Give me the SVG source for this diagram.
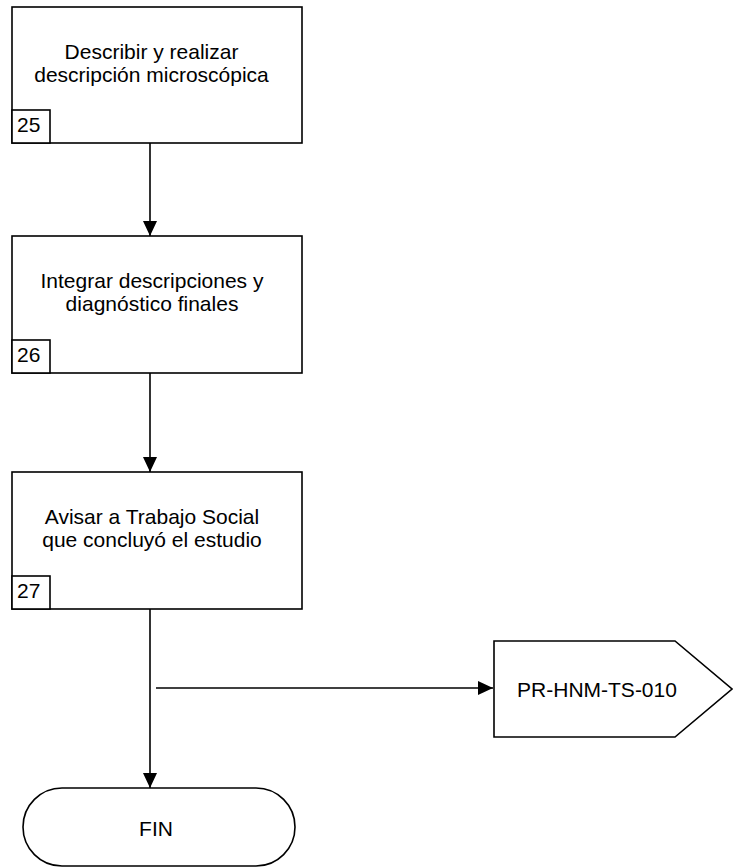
<svg xmlns="http://www.w3.org/2000/svg" width="733" height="867" viewBox="0 0 733 867">
<defs>
<style>
.box{fill:#fff;stroke:#000;stroke-width:1.6}
.ln{fill:none;stroke:#000;stroke-width:1.6}
.t{font-family:"Liberation Sans",Arial,sans-serif;font-size:21px;fill:#000}
.c{text-anchor:middle}
</style>
<marker id="ah" markerWidth="15" markerHeight="14" refX="15" refY="7" orient="auto" markerUnits="userSpaceOnUse">
<path d="M0,0 L15,7 L0,14 Z" fill="#000"/>
</marker>
</defs>
<rect width="733" height="867" fill="#fff"/>
<g id="connectors">
<line class="ln" x1="150" y1="143" x2="150" y2="236" marker-end="url(#ah)"/>
<line class="ln" x1="150" y1="373" x2="150" y2="472" marker-end="url(#ah)"/>
<line class="ln" x1="150" y1="609" x2="150" y2="788" marker-end="url(#ah)"/>
<line class="ln" x1="156" y1="688" x2="493" y2="688" marker-end="url(#ah)"/>
</g>
<g id="n25">
<rect class="box" x="12" y="7" width="290" height="136"/>
<rect class="box" x="12" y="110" width="38" height="33"/>
<text class="t c" x="151.5" y="59">Describir y realizar</text>
<text class="t c" x="151.5" y="82">descripción microscópica</text>
<text class="t" x="17" y="132">25</text>
</g>
<g id="n26">
<rect class="box" x="12" y="236" width="290" height="137"/>
<rect class="box" x="12" y="340" width="38" height="33"/>
<text class="t c" x="152" y="288">Integrar descripciones y</text>
<text class="t c" x="152" y="311">diagnóstico finales</text>
<text class="t" x="17" y="362">26</text>
</g>
<g id="n27">
<rect class="box" x="12" y="472" width="290" height="137"/>
<rect class="box" x="12" y="576" width="38" height="33"/>
<text class="t c" x="152" y="524">Avisar a Trabajo Social</text>
<text class="t c" x="152" y="547">que concluyó el estudio</text>
<text class="t" x="17" y="598">27</text>
</g>
<g id="offpage">
<path class="box" d="M494,641 L675,641 L732,689 L675,737 L494,737 Z"/>
<text class="t c" x="597" y="697">PR-HNM-TS-010</text>
</g>
<g id="fin">
<rect class="box" x="23" y="788" width="272" height="78" rx="39" ry="39"/>
<text class="t c" x="156" y="836">FIN</text>
</g>
</svg>
